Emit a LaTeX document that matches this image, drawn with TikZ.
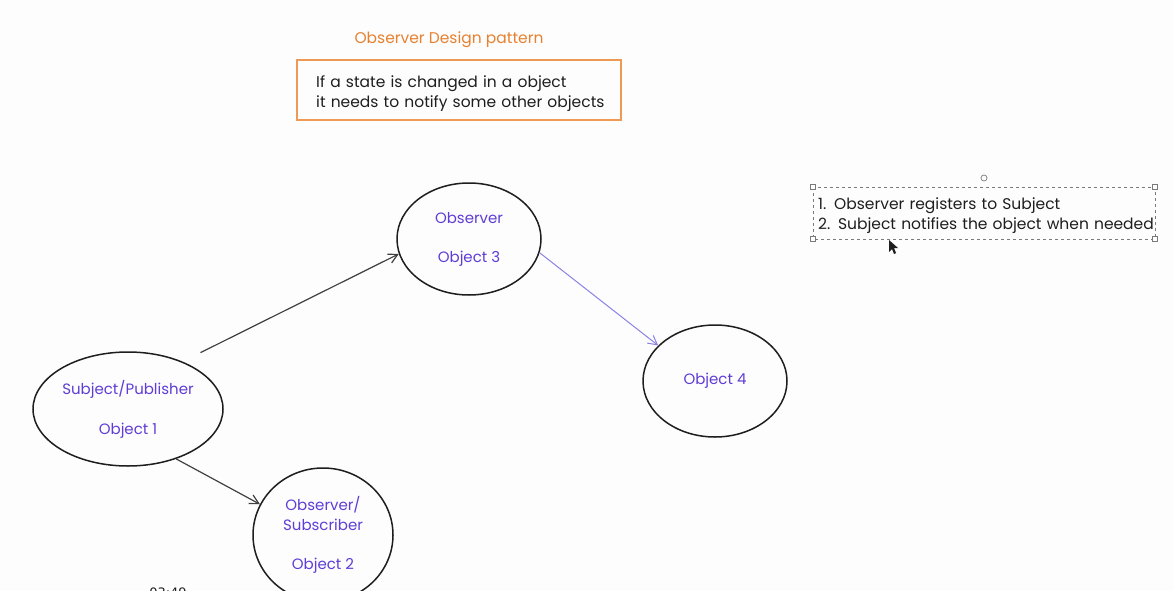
\documentclass[tikz,border=0pt]{standalone}
\usepackage{fontspec}
\setmainfont{Poppins}
\newfontfamily\clockfont{DejaVu Sans}
\usetikzlibrary{arrows.meta,shapes.geometric}
\definecolor{inkblack}{HTML}{1E1E1E}
\definecolor{titleorange}{HTML}{E8812F}
\definecolor{boxorange}{HTML}{EE9A55}
\definecolor{objviolet}{HTML}{5F3DD6}
\definecolor{linkviolet}{HTML}{8A83E6}
\definecolor{selgray}{HTML}{7A7A7A}
\definecolor{paper}{HTML}{FDFDFD}

\begin{document}
\begin{tikzpicture}[
  x=1pt, y=-1pt,
  font=\fontsize{15.5}{20}\selectfont,
  obj/.style={draw=inkblack, ellipse, line width=1.5pt, inner sep=0pt, align=center, text=objviolet,
    font=\fontsize{15}{20}\selectfont},
  note/.style={align=left, text=inkblack, inner sep=0pt, anchor=west},
  ar/.style={-{Straight Barb[length=3.2mm,width=3.4mm]}, line width=1.2pt, draw=inkblack!85},
  handle/.style={draw=selgray, fill=white, minimum size=5pt, inner sep=0pt, line width=0.7pt},
]
\fill[paper] (0,0) rectangle (1174,591);
\clip (0,0) rectangle (1174,591);

% heading and problem box
\node[text=titleorange] (title) at (449,40) {Observer Design pattern};
\draw[draw=boxorange, line width=1.3pt] (297,60) rectangle (621,120);
\node[note, text width=300pt] (problem) at (316,94) {If a state is changed in a object\\it needs to notify some other objects};

% objects
\node[obj, minimum width=190pt, minimum height=114pt] (obj1) at (128,409) {Subject/Publisher\\[20pt]Object 1};
\node[obj, minimum width=140pt, minimum height=134pt] (obj2) at (323,535) {Observer/\\Subscriber\\[19pt]Object 2};
\node[obj, minimum width=144pt, minimum height=112pt] (obj3) at (469,239) {Observer\\[19pt]Object 3};
\node[obj, minimum width=144pt, minimum height=112pt] (obj4) at (715,381) {Object 4};

\draw[ar, shorten <=20pt] (obj1.41) -- (obj3.192);
\draw[ar] (obj1.-46) -- (obj2.154);
\draw[ar, draw=linkviolet, line width=1pt] (obj3.-11) -- (obj4.148);

% steps, still selected
\draw[selgray, dashed, line width=0.8pt] (813,187) rectangle (1155,239);
\node[note, text width=340pt] (steps) at (818,216) {1. Observer registers to Subject\\2. Subject notifies the object when needed};
\foreach \hx/\hy in {813/187, 1155/187, 813/239, 1155/239}
  \node[handle] at (\hx,\hy) {};
\draw[selgray, fill=white, line width=0.7pt] (984,178) circle (3pt);
\fill[inkblack] (889,240) -- (889,252) -- (892,249) -- (894,254) -- (896,253) -- (894,248) -- (898,248) -- cycle;

% video clock
\node[fill=white, inner sep=2pt, font=\clockfont\fontsize{13}{15}\selectfont, text=inkblack] (clock) at (168,593) {03:49};
\end{tikzpicture}
\end{document}
